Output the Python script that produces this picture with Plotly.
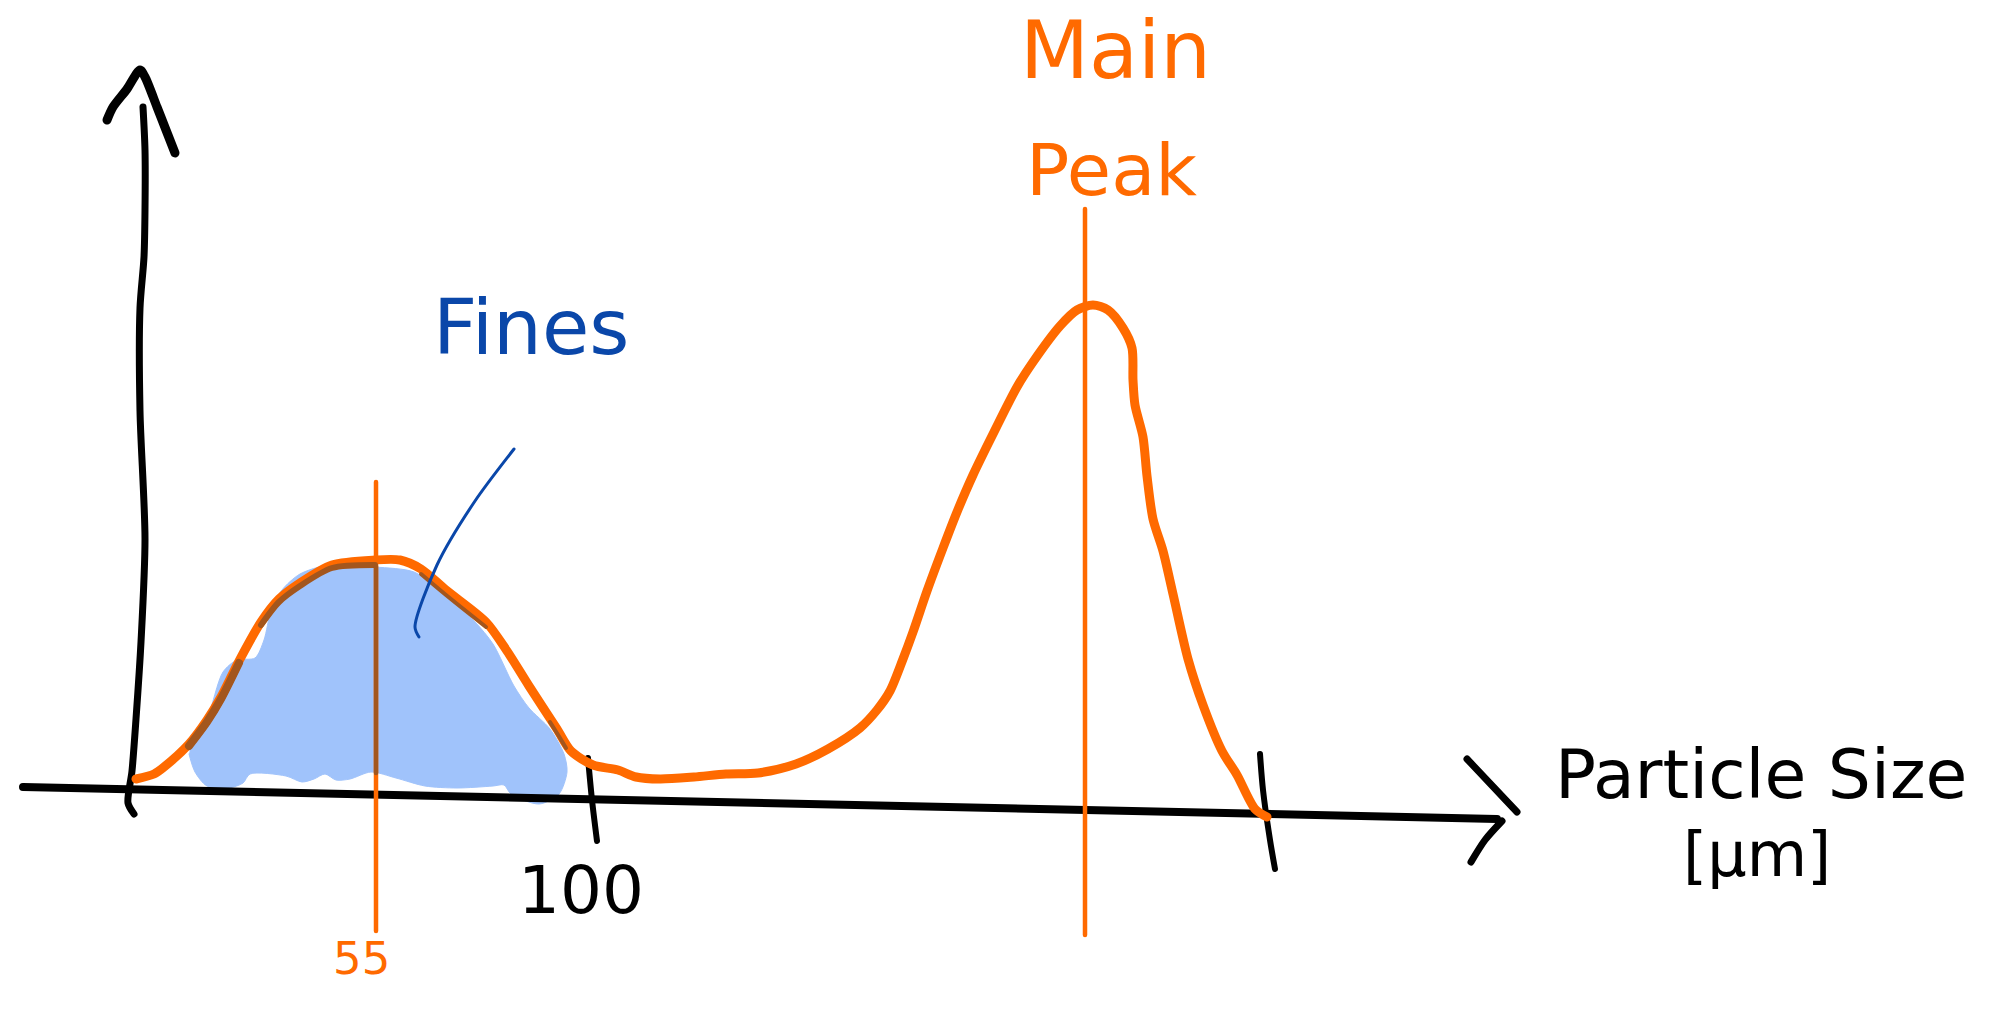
import plotly.graph_objects as go

ORANGE = "#ff6a00"
BROWN = "#a3561d"
BLUE = "#0a47a9"
FILL = "#a0c3fb"
BLACK = "#000000"

# All values, on a 2014 x 1010 drawing scale
blob_x = [191,207,223,237,255,264,271,282,300,329,375,414,439,475,493,514,529,550,564,567,559,539,511,504,493,457,425,396,371,350,336,325,314,302,286,250,243,229,207,195,189]
blob_y = [744,719,672,660,658,640,611,590,574,565,567,572,590,622,644,686,708,729,754,772,794,804,794,785,786,788,786,778,772,779,780,774,779,782,776,774,783,788,786,772,754]

curve_x = [136,154,164,189,207,221,239,261,279,300,332,375,400,421,446,486,507,529,557,571,593,618,636,660,694,726,758,796,828,860,877,890,903,913,927,943,957,973,993,1017,1033,1060,1077,1093,1108,1123,1132,1133,1135,1143,1147,1153,1163,1173,1188,1203,1222,1237,1255,1267]
curve_y = [779,774,767,744,720,697,661,622,599,583,565,560,560,569,590,622,651,686,729,751,765,770,777,779,777,774,773,764,749,728,710,691,659,632,591,548,512,475,434,387,362,326,310,305,310,328,348,380,405,437,476,519,551,594,659,705,751,775,809,817]

overlap_left_x = [189,207,221,239]
overlap_left_y = [746,722,699,663]
overlap_top_x = [261,279,300,332,375]
overlap_top_y = [625,602,586,568,565]
overlap_right_x = [421,446,486]
overlap_right_y = [574,595,627]
overlap_low_x = [550,560,566]
overlap_low_y = [722,738,748]

y_axis_x = [143,145,145,144,140,140,145,141,136,132,128,134]
y_axis_y = [107,150,210,257,308,411,539,642,719,771,803,814]
y_head_x = [107,113,127,140,145,157,166,175]
y_head_y = [120,107,89,70,77,107,130,153]

x_axis_x = [23,1497]
x_axis_y = [787,819]
x_head_top_x = [1467,1517]
x_head_top_y = [759,812]
x_head_low_x = [1502,1485,1471]
x_head_low_y = [821,840,862]

tick_100_x = [588,592,597]
tick_100_y = [758,800,841]
tick_end_x = [1260,1263,1270,1275]
tick_end_y = [754,790,840,869]

ref_55_x = [376,376]
ref_55_y = [482,931]
ref_55_inner_y = [566,773]
ref_main_x = [1085,1085]
ref_main_y = [209,935]

pointer_x = [514,475,437,415,419]
pointer_y = [449,501,565,627,637]

label_text = ["Main", "Peak", "Fines", "Particle Size", "[µm]", "100", "55"]
label_x = [1115, 1111, 531, 1761, 1757, 581, 361]
label_y = [50, 170, 327, 774, 854, 890, 958]
label_size = [80, 72, 77, 68, 62, 66, 45]
label_color = [ORANGE, ORANGE, BLUE, BLACK, BLACK, BLACK, ORANGE]


def stroke(x, y, color, width, shape="spline"):
    return go.Scatter(x=x, y=y, mode="lines", hoverinfo="skip", showlegend=False,
                      line=dict(color=color, width=width, shape=shape, smoothing=0.8))


fig = go.Figure()
fig.add_trace(go.Scatter(x=blob_x, y=blob_y, mode="lines", fill="toself", fillcolor=FILL,
                         line=dict(color=FILL, width=1, shape="spline", smoothing=0.8),
                         hoverinfo="skip", showlegend=False))
fig.add_trace(stroke(x_axis_x, x_axis_y, BLACK, 8, "linear"))
fig.add_trace(stroke(y_axis_x, y_axis_y, BLACK, 7))
fig.add_trace(stroke(y_head_x, y_head_y, BLACK, 9))
fig.add_trace(stroke(x_head_top_x, x_head_top_y, BLACK, 7, "linear"))
fig.add_trace(stroke(x_head_low_x, x_head_low_y, BLACK, 7))
fig.add_trace(stroke(tick_100_x, tick_100_y, BLACK, 6))
fig.add_trace(stroke(tick_end_x, tick_end_y, BLACK, 6))
fig.add_trace(stroke(ref_55_x, ref_55_y, ORANGE, 4.5, "linear"))
fig.add_trace(stroke(ref_main_x, ref_main_y, ORANGE, 4.5, "linear"))
fig.add_trace(stroke(ref_55_x, ref_55_inner_y, BROWN, 4.5, "linear"))
fig.add_trace(stroke(curve_x, curve_y, ORANGE, 9))
fig.add_trace(stroke(overlap_left_x, overlap_left_y, BROWN, 8))
fig.add_trace(stroke(overlap_top_x, overlap_top_y, BROWN, 6))
fig.add_trace(stroke(overlap_right_x, overlap_right_y, BROWN, 4))
fig.add_trace(stroke(overlap_low_x, overlap_low_y, BROWN, 4))
fig.add_trace(stroke(pointer_x, pointer_y, BLUE, 3))

for t, x, y, s, c in zip(label_text, label_x, label_y, label_size, label_color):
    fig.add_annotation(x=x, y=y, text=t, showarrow=False, xanchor="center", yanchor="middle",
                       font=dict(family="DejaVu Sans", size=s, color=c))

fig.update_layout(
    width=2014, height=1010, margin=dict(l=0, r=0, t=0, b=0),
    paper_bgcolor="white", plot_bgcolor="white", showlegend=False,
    xaxis=dict(range=[0, 2014], visible=False, fixedrange=True),
    yaxis=dict(range=[1010, 0], visible=False, fixedrange=True),
)
round_caps = ("document.body.style.margin='0';"
              "document.querySelectorAll('.js-line').forEach(function(e){"
              "e.style.strokeLinecap='round';e.style.strokeLinejoin='round';});")
fig.write_html("out.html", post_script=round_caps, config={"displayModeBar": False})
